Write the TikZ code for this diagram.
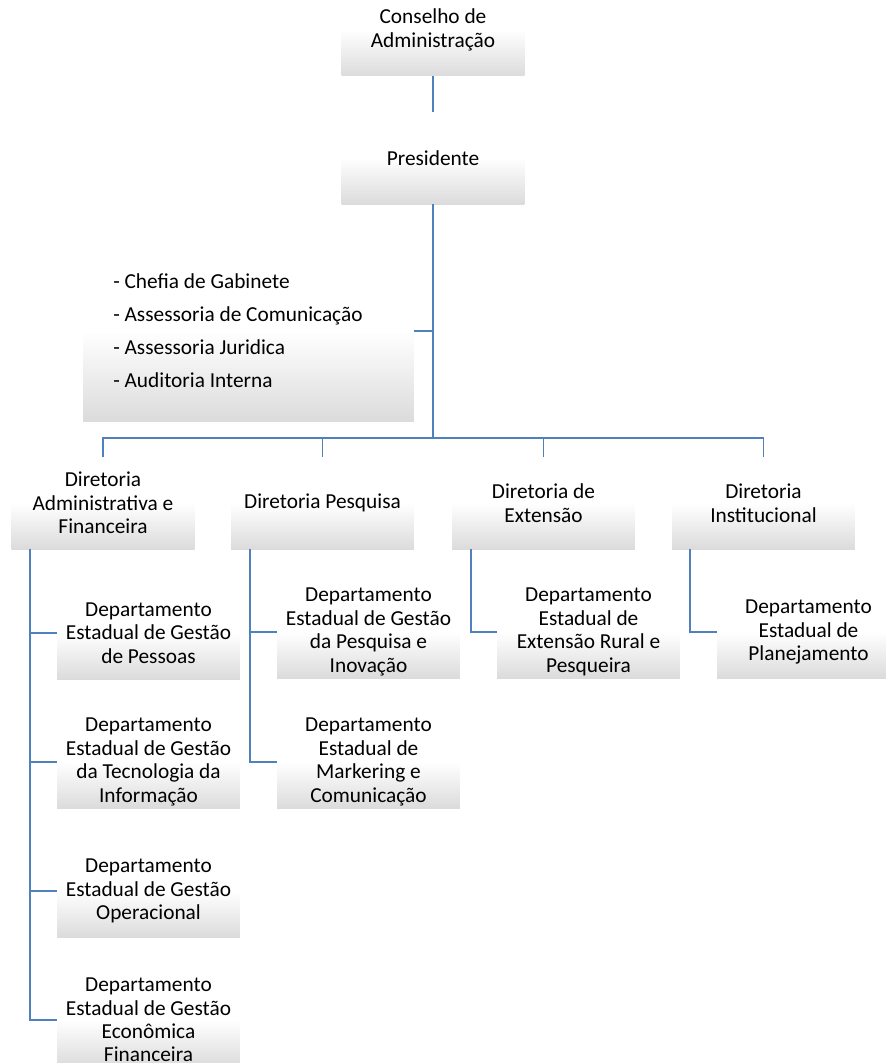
\documentclass[tikz,border=0pt]{standalone}
\usepackage{fontspec}
\setmainfont{Carlito}
\definecolor{connblue}{HTML}{4F81BD}
\begin{document}
\begin{tikzpicture}[x=0.75pt,y=-0.75pt,
  box/.style={rectangle, minimum width=137pt, minimum height=69pt, inner sep=0pt,
    top color=white, bottom color=black!14, middle color=white,
    align=center, font=\fontsize{16}{17.6}\selectfont},
  abox/.style={rectangle, minimum width=248pt, minimum height=135pt, inner sep=0pt,
    top color=white, bottom color=black!14, middle color=white},
  atext/.style={anchor=west, inner sep=0pt, align=left, font=\fontsize{16}{24.75}\selectfont},
  conn/.style={draw=connblue, line width=1.1pt}]
\useasboundingbox (0,0) rectangle (885,1063);
% top
\node[box] (cons) at (433,30) {Conselho de\\Administração};
\node[box] (pres) at (433,158) {Presidente};
\node[abox] (asst) at (248.5,331) {};
\node[atext] (asstxt) at (113,331) {- Chefia de Gabinete\\- Assessoria de Comunicação\\- Assessoria Juridica\\- Auditoria Interna};
% directorates
\node[box] (d1) at (103,503) {Diretoria\\Administrativa e\\Financeira};
\node[box] (d2) at (322.5,503) {Diretoria Pesquisa};
\node[box] (d3) at (543.5,503) {Diretoria de\\Extensão};
\node[box] (d4) at (763.5,503) {Diretoria\\Institucional};
% departments
\node[box] (p11) at (148.5,633) {Departamento\\Estadual de Gestão\\de Pessoas};
\node[box] (p12) at (148.5,762) {Departamento\\Estadual de Gestão\\da Tecnologia da\\Informação};
\node[box] (p13) at (148.5,891) {Departamento\\Estadual de Gestão\\Operacional};
\node[box] (p14) at (148.5,1020) {Departamento\\Estadual de Gestão\\Econômica\\Financeira};
\node[box] (p21) at (368.5,632) {Departamento\\Estadual de Gestão\\da Pesquisa e\\Inovação};
\node[box] (p22) at (368.5,762) {Departamento\\Estadual de\\Markering e\\Comunicação};
\node[box] (p31) at (588.5,632) {Departamento\\Estadual de\\Extensão Rural e\\Pesqueira};
\node[box] (p41) at (808.5,632) {Departamento\\Estadual de\\Planejamento};
% connectors
\coordinate (bus) at (433,438);
\draw[conn] (cons.south) -- (pres.north);
\draw[conn] (pres.south) -- (bus);
\draw[conn] (asst.east) -- (asst.east -| pres.south);
\draw[conn] (d1.north) -- (d1.north |- bus) -- (d4.north |- bus) -- (d4.north);
\draw[conn] (d2.north) -- (d2.north |- bus);
\draw[conn] (d3.north) -- (d3.north |- bus);
\coordinate (t1) at (30,549);
\coordinate (t2) at (250,549);
\coordinate (t3) at (471,549);
\coordinate (t4) at (690,549);
\draw[conn] (t1) |- (p11.west);
\draw[conn] (t1) |- (p12.west);
\draw[conn] (t1) |- (p13.west);
\draw[conn] (t1) |- (p14.west);
\draw[conn] (t2) |- (p21.west);
\draw[conn] (t2) |- (p22.west);
\draw[conn] (t3) |- (p31.west);
\draw[conn] (t4) |- (p41.west);
\end{tikzpicture}
\end{document}
